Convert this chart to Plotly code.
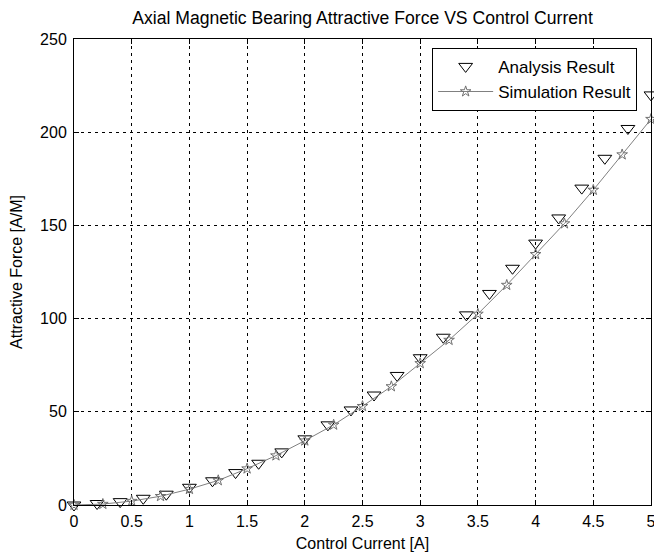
import plotly.graph_objects as go

# Analysis Result (triangles)
analysis_x = [0, 0.2, 0.4, 0.6, 0.8, 1.0, 1.2, 1.4, 1.6, 1.8, 2.0, 2.2, 2.4,
              2.6, 2.8, 3.0, 3.2, 3.4, 3.6, 3.8, 4.0, 4.2, 4.4, 4.6, 4.8, 5.0]
analysis_y = [0, 0.8, 1.8, 3.6, 5.8, 9.5, 13, 17.4, 22.4, 28.5, 35.5, 43, 51,
              59, 69.5, 79, 90, 102, 113.5, 127, 140.5, 154, 170, 186, 202, 220]

# Simulation Result (stars + line)
sim_x = [0, 0.25, 0.5, 0.75, 1.0, 1.25, 1.5, 1.75, 2.0, 2.25, 2.5, 2.75, 3.0,
         3.25, 3.5, 3.75, 4.0, 4.25, 4.5, 4.75, 5.0]
sim_y = [0, 0.5, 2.1, 4.7, 8.5, 13.2, 19.5, 26.5, 34.5, 43, 53, 63.6, 76,
         88.5, 102.5, 118, 134.5, 151, 169, 188, 207]

x_ticks = [0, 0.5, 1, 1.5, 2, 2.5, 3, 3.5, 4, 4.5, 5]
x_tick_text = ["0", "0.5", "1", "1.5", "2", "2.5", "3", "3.5", "4", "4.5", "5"]
y_ticks = [0, 50, 100, 150, 200, 250]
y_tick_text = ["0", "50", "100", "150", "200", "250"]

FONT = "Liberation Sans, Arial, sans-serif"

fig = go.Figure()
fig.add_trace(go.Scatter(
    x=analysis_x, y=analysis_y, mode="markers", name="Analysis Result",
    cliponaxis=False,
    marker=dict(symbol="triangle-down-open", size=12, color="black",
                line=dict(width=1, color="black")),
))
fig.add_trace(go.Scatter(
    x=sim_x, y=sim_y, mode="lines+markers", name="Simulation Result",
    cliponaxis=False,
    line=dict(color="#808080", width=1),
    marker=dict(symbol="star-open", size=8, color="#707070",
                line=dict(width=1, color="#707070")),
))

axis_common = dict(
    showline=True, linecolor="black", linewidth=1, mirror="ticks",
    ticks="inside", ticklen=5, tickcolor="black", tickwidth=1,
    showgrid=True, gridcolor="black", gridwidth=1, griddash="3px,4px",
    zeroline=False, tickfont=dict(family=FONT, size=16, color="black"),
    ticklabeloverflow="allow",
)

# the page body adds an 8px offset, so the figure is sized 8px smaller
fig.update_layout(
    width=654, height=547,
    margin=dict(l=66, r=6, t=31, b=48),
    paper_bgcolor="white", plot_bgcolor="white",
    font=dict(family=FONT, size=16, color="black"),
    title=dict(text="Axial Magnetic Bearing Attractive Force VS Control Current",
               x=0.5, xref="paper", xanchor="center", y=1 - 10 / 547,
               yanchor="middle", font=dict(family=FONT, size=17.6, color="black")),
    xaxis=dict(range=[0, 5], tickvals=x_ticks, ticktext=x_tick_text,
               ticklabelstandoff=2,
               title=dict(text="Control Current [A]", standoff=8,
                          font=dict(family=FONT, size=16)),
               **axis_common),
    yaxis=dict(range=[0, 250], tickvals=y_ticks, ticktext=y_tick_text,
               ticklabelstandoff=3,
               title=dict(text="Attractive Force [A/M]", standoff=15,
                          font=dict(family=FONT, size=16)),
               **axis_common),
    legend=dict(x=0.976, y=0.981, xanchor="right", yanchor="top",
                bgcolor="white", bordercolor="black", borderwidth=1,
                font=dict(family=FONT, size=17, color="black"),
                itemwidth=55),
    showlegend=True,
)

fig.write_html("out.html")
